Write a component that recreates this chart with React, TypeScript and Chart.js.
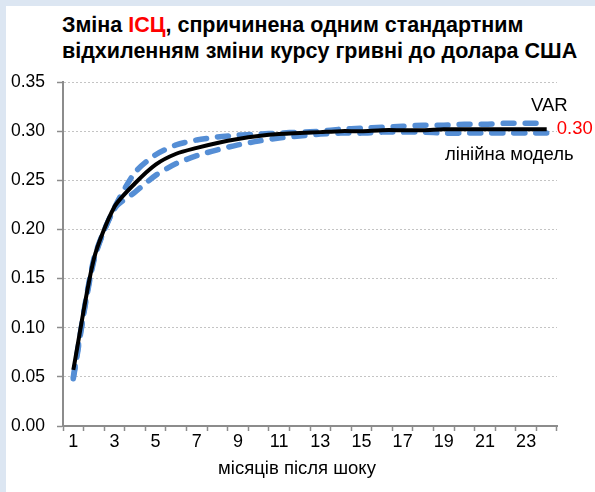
import React, { useEffect, useRef } from "react";
import { Chart, registerables } from "chart.js";

Chart.register(...registerables);

const months: string[] = Array.from({ length: 24 }, (_, i) => String(i + 1));

const linearModel: number[] = [
  0.057, 0.170, 0.223, 0.247, 0.266, 0.277, 0.283, 0.288, 0.292, 0.295, 0.297, 0.298,
  0.299, 0.300, 0.300, 0.301, 0.301, 0.301, 0.302, 0.302, 0.302, 0.302, 0.302, 0.302,
];

const varUpper: number[] = [
  0.050, 0.170, 0.222, 0.258, 0.276, 0.286, 0.291, 0.294, 0.296, 0.297, 0.298, 0.299,
  0.300, 0.302, 0.303, 0.304, 0.305, 0.306, 0.306, 0.307, 0.307, 0.308, 0.308, 0.308,
];

const varLower: number[] = [
  0.048, 0.168, 0.221, 0.238, 0.255, 0.267, 0.275, 0.281, 0.286, 0.290, 0.293, 0.295,
  0.297, 0.298, 0.298, 0.299, 0.299, 0.299, 0.298, 0.298, 0.298, 0.298, 0.298, 0.298,
];

const xAxisTitle = "місяців після шоку";

const FONT = "'Liberation Sans', Arial, sans-serif";
const BLUE = "#558ED5";
const TXT = "#000000";

const labelPlugin = {
  id: "endLabels",
  afterDatasetsDraw(chart: any) {
    const { ctx, scales, chartArea } = chart;
    const xs = scales.x;
    const ys = scales.y;
    const last = months.length - 1;
    const xLast = xs.getPixelForValue(last);
    ctx.save();
    ctx.font = `18.5px ${FONT}`;
    ctx.textBaseline = "middle";
    ctx.fillStyle = TXT;
    ctx.textAlign = "right";
    ctx.fillText("VAR", xLast + 21, ys.getPixelForValue(varUpper[last]) - 17);
    ctx.fillText("лінійна модель", xLast + 27, ys.getPixelForValue(varLower[last]) + 22);
    ctx.textAlign = "center";
    ctx.fillText(xAxisTitle, (chartArea.left + chartArea.right) / 2 - 13, xs.bottom - 23);
    ctx.fillStyle = "#FF0000";
    ctx.textAlign = "left";
    ctx.fillText(linearModel[last].toFixed(2), xLast + 10, ys.getPixelForValue(linearModel[last]));
    ctx.restore();
  },
};

export default function App() {
  const ref = useRef<HTMLCanvasElement | null>(null);

  useEffect(() => {
    if (!ref.current) return;
    const chart = new Chart(ref.current, {
      type: "line",
      data: {
        labels: months,
        datasets: [
          {
            label: "лінійна модель",
            data: linearModel,
            borderColor: "#000000",
            borderWidth: 4,
            pointRadius: 0,
            tension: 0.25,
            fill: false,
          },
          {
            label: "VAR",
            data: varUpper,
            borderColor: BLUE,
            borderWidth: 5.5,
            borderDash: [11, 11],
            borderCapStyle: "round",
            pointRadius: 0,
            tension: 0.25,
            fill: false,
          },
          {
            label: "VAR (2)",
            data: varLower,
            borderColor: BLUE,
            borderWidth: 5.5,
            borderDash: [11, 11],
            borderCapStyle: "round",
            pointRadius: 0,
            tension: 0.25,
            fill: false,
          },
        ],
      },
      options: {
        responsive: false,
        animation: false,
        devicePixelRatio: 1,
        layout: { padding: { top: 82, right: 38, left: 0, bottom: 0 } },
        plugins: {
          legend: { display: false },
          tooltip: { enabled: false },
          title: { display: false },
        },
        scales: {
          x: {
            type: "category",
            offset: true,
            grid: {
              offset: true,
              drawOnChartArea: false,
              drawTicks: true,
              tickLength: 5,
              tickColor: "#8c8c8c",
              tickWidth: 1.5,
            },
            border: { display: true, color: "#8c8c8c", width: 2 },
            ticks: {
              autoSkip: false,
              maxRotation: 0,
              minRotation: 0,
              color: TXT,
              font: { size: 18, family: FONT },
              padding: 0,
              callback: (_v: any, i: number) => (i % 2 === 0 ? months[i] : ""),
            },
            title: { display: false, text: xAxisTitle },
            afterFit: (s: any) => {
              s.height = 66;
            },
          },
          y: {
            min: 0,
            max: 0.35,
            ticks: {
              stepSize: 0.05,
              color: TXT,
              font: { size: 17.5, family: FONT },
              padding: 12,
              callback: (v: any) => Number(v).toFixed(2),
            },
            grid: {
              color: "#c4c4c4",
              lineWidth: 1,
              tickColor: "#8c8c8c",
              tickLength: 6,
              tickWidth: 1.5,
              drawTicks: true,
            },
            border: { display: true, color: "#8c8c8c", width: 2, dash: [2, 2] },
            afterFit: (s: any) => {
              s.width = 63;
            },
          },
        },
      },
      plugins: [labelPlugin],
    });
    return () => chart.destroy();
  }, []);

  return (
    <div
      style={{
        position: "fixed",
        left: 0,
        top: 0,
        width: 595,
        height: 492,
        background: "#DCE6F2",
        overflow: "hidden",
      }}
    >
      <div
        style={{
          position: "absolute",
          left: 6,
          top: 6,
          width: 589,
          height: 486,
          background: "#FFFFFF",
        }}
      />
      <div
        style={{
          position: "absolute",
          left: 62,
          top: 12,
          fontFamily: FONT,
          fontWeight: "bold",
          fontSize: 21.5,
          lineHeight: "26px",
          color: "#000000",
          whiteSpace: "nowrap",
        }}
      >
        <div>
          Зміна <span style={{ color: "#FF0000" }}>ІСЦ</span>, спричинена одним стандартним
        </div>
        <div>відхиленням зміни курсу гривні до долара США</div>
      </div>
      <canvas
        ref={ref}
        width={595}
        height={492}
        style={{ position: "absolute", left: 0, top: 0, width: 595, height: 492 }}
      />
    </div>
  );
}
